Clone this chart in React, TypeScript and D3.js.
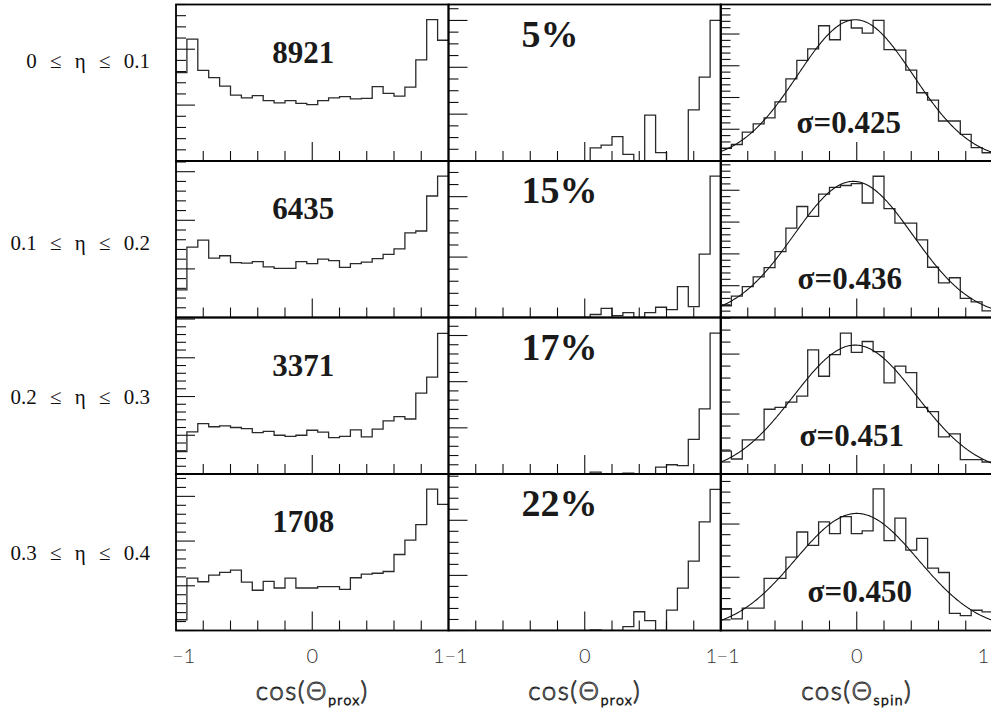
import React from "react";
import * as d3 from "d3";

// ---- data (25 bins from -1 to 1) ----
const binEdges = d3.range(26).map((i) => -1 + i * 0.08);

// column 1: cos(theta_prox), all events
const proxAllEta1 = [158, 218, 162, 149, 134, 118, 113, 117, 108, 104, 108, 103, 101, 108, 113, 115, 111, 112, 133, 121, 116, 132, 181, 253, 216];
const proxAllEta2 = [57, 145, 159, 122, 127, 113, 112, 115, 104, 101, 101, 115, 111, 120, 117, 103, 111, 114, 121, 130, 141, 174, 178, 250, 291];
const proxAllEta3 = [58, 109, 130, 122, 124, 120, 117, 107, 110, 100, 97, 100, 113, 108, 94, 97, 114, 96, 116, 137, 148, 142, 209, 250, 363];
const proxAllEta4 = [24, 117, 109, 124, 130, 135, 108, 90, 110, 95, 117, 95, 95, 98, 98, 92, 118, 126, 128, 132, 170, 202, 237, 316, 282];

// column 2: cos(theta_prox), subset
const proxSubEta1 = [0, 0, 0, 0, 0, 0, 0, 0, 0, 0, 0, 0, 0, 28, 34, 52, 14, 0, 98, 18, 0, 0, 109, 179, 300];
const proxSubEta2 = [0, 0, 0, 0, 0, 0, 0, 0, 0, 0, 0, 0, 0, 5, 15, 3, 8, 0, 8, 17, 13, 51, 18, 105, 234];
const proxSubEta3 = [0, 0, 0, 0, 0, 0, 0, 0, 0, 0, 0, 0, 0, 4, 0, 0, 2, 0, 0, 15, 20, 18, 75, 141, 305];
const proxSubEta4 = [0, 0, 0, 0, 0, 0, 0, 0, 0, 0, 0, 0, 0, 1, 0, 0, 7, 34, 18, 0, 37, 77, 126, 197, 256];

// column 3: cos(theta_spin)
const spinEta1 = [40, 52, 91, 117, 136, 186, 259, 317, 353, 426, 382, 443, 419, 403, 443, 351, 349, 286, 215, 192, 126, 126, 84, 42, 26];
const spinEta2 = [37, 67, 97, 128, 157, 207, 281, 349, 318, 388, 409, 415, 421, 360, 444, 342, 297, 297, 244, 158, 109, 125, 60, 49, 21];
const spinEta3 = [38, 25, 57, 57, 108, 111, 120, 130, 207, 163, 199, 235, 203, 221, 204, 152, 180, 169, 111, 104, 62, 67, 24, 24, 20];
const spinEta4 = [41, 22, 42, 42, 98, 98, 138, 185, 160, 204, 182, 214, 182, 187, 266, 169, 211, 151, 173, 117, 109, 32, 28, 38, 35];

// gaussian fit parameters for column 3
const fitAmp = [445, 428, 215, 220];
const fitMean = [-0.01, -0.025, -0.012, 0];
const fitSigma = [0.425, 0.436, 0.451, 0.45];

// axis maxima and minor tick steps (major every 100)
const yMaxCol1 = [280, 322, 404, 350];
const yMaxCol2 = [334, 259, 339, 284];
const yMaxCol3 = [493, 492, 261, 294];
const minorCol1 = [20, 20, 20, 20];
const minorCol2 = [25, 20, 20, 20];
const minorCol3 = [20, 20, 20, 20];

// text
const rowLabels = ["0 ≤ η ≤ 0.1", "0.1 ≤ η ≤ 0.2", "0.2 ≤ η ≤ 0.3", "0.3 ≤ η ≤ 0.4"];
const countLabels = ["8921", "6435", "3371", "1708"];
const percentLabels = ["5%", "15%", "17%", "22%"];
const sigmaLabels = ["σ=0.425", "σ=0.436", "σ=0.451", "σ=0.450"];
const xTickLabels = ["−1", "0", "1"];
const xTitleSubs = ["prox", "prox", "spin"];

const col1 = [proxAllEta1, proxAllEta2, proxAllEta3, proxAllEta4];
const col2 = [proxSubEta1, proxSubEta2, proxSubEta3, proxSubEta4];
const col3 = [spinEta1, spinEta2, spinEta3, spinEta4];

// ---- layout ----
const W = 991;
const H = 723;
const colLeft = [176, 448.5, 720.5];
const colW = 272.5;
const rowTop = [4.5, 161, 317.5, 474];
const rowH = 156.5;
const sigmaDx = [-8, -7, -5, 3];
const rowLabelY = [68, 250, 404, 560];

function histPath(vals: number[], x: d3.ScaleLinear<number, number>, y: d3.ScaleLinear<number, number>) {
  const p = d3.path();
  p.moveTo(x(binEdges[0]), y(vals[0]));
  vals.forEach((v, i) => {
    p.lineTo(x(binEdges[i + 1]), y(v));
    if (i < vals.length - 1) p.lineTo(x(binEdges[i + 1]), y(vals[i + 1]));
  });
  return p.toString();
}

function Panel({ c, r }: { c: number; r: number }) {
  const left = colLeft[c];
  const top = rowTop[r];
  const x = d3.scaleLinear().domain([-1, 1]).range([left, left + colW]);
  const yMax = [yMaxCol1, yMaxCol2, yMaxCol3][c][r];
  const minor = [minorCol1, minorCol2, minorCol3][c][r];
  const y = d3.scaleLinear().domain([0, yMax]).range([top + rowH, top]);
  const vals = [col1, col2, col3][c][r];
  const yTicks = d3.range(0, yMax + 0.001, minor);
  const xTicks = d3.range(-0.8, 0.81, 0.2);
  const clipId = `clip-${c}-${r}`;
  let fit: string | null = null;
  if (c === 2) {
    const xs = d3.range(0, 301).map((i) => -1 + (2 * i) / 300);
    const line = d3
      .line<number>()
      .x((d) => x(d))
      .y((d) => y(fitAmp[r] * Math.exp(-((d - fitMean[r]) ** 2) / (2 * fitSigma[r] ** 2))));
    fit = line(xs);
  }
  return (
    <g>
      <clipPath id={clipId}>
        <rect x={left} y={top} width={colW} height={rowH} />
      </clipPath>
      <g clipPath={`url(#${clipId})`}>
        <path d={histPath(vals, x, y)} fill="none" stroke="#2a2a2a" strokeWidth={1.3} />
        {fit && <path d={fit} fill="none" stroke="#111" strokeWidth={1.1} />}
      </g>
      {yTicks.map((t) => {
        const major = Math.abs(t / 100 - Math.round(t / 100)) < 1e-6;
        return (
          <line key={"y" + t} x1={left} x2={left + (major ? 19 : 10)} y1={y(t)} y2={y(t)} stroke="#111" strokeWidth={1.1} />
        );
      })}
      {xTicks.map((t) => {
        const major = Math.abs(t) < 1e-6;
        return (
          <line key={"x" + t} x1={x(t)} x2={x(t)} y1={top + rowH} y2={top + rowH - (major ? 19 : 10)} stroke="#111" strokeWidth={1.1} />
        );
      })}
      <rect x={left} y={top} width={colW} height={rowH} fill="none" stroke="#000" strokeWidth={1.8} />
    </g>
  );
}

export default function App() {
  const rows = [0, 1, 2, 3];
  const cols = [0, 1, 2];
  const bottom = rowTop[3] + rowH;
  return (
    <svg width={W} height={H} style={{ position: "absolute", left: 0, top: 0, background: "#fff" }}>
      <rect width={W} height={H} fill="#fff" />
      {rows.map((r) => cols.map((c) => <Panel key={`${c}-${r}`} c={c} r={r} />))}
      {/* row labels */}
      {rowLabels.map((t, r) => (
        <text key={t} x={150} y={rowLabelY[r]} textAnchor="end" fontFamily="'Liberation Serif', serif" fontSize={21} style={{ wordSpacing: "8px" }} fill="#111">
          {t}
        </text>
      ))}
      {/* counts */}
      {countLabels.map((t, r) => (
        <text key={t} x={colLeft[0] + colW / 2 - 9} y={rowTop[r] + 58} textAnchor="middle" fontFamily="'Liberation Serif', serif" fontWeight="bold" fontSize={31} fill="#1a1a1a">
          {t}
        </text>
      ))}
      {/* percentages */}
      {percentLabels.map((t, r) => (
        <text key={t} x={colLeft[1] + 73} y={rowTop[r] + 42} fontFamily="'Liberation Serif', serif" fontWeight="bold" fontSize={38} fill="#1a1a1a">
          {t}
        </text>
      ))}
      {/* sigmas */}
      {sigmaLabels.map((t, r) => (
        <text key={t} x={colLeft[2] + colW / 2 + sigmaDx[r]} y={rowTop[r] + 128} textAnchor="middle" fontFamily="'Liberation Serif', serif" fontWeight="bold" fontSize={31} fill="#1a1a1a">
          {t}
        </text>
      ))}
      {/* x tick labels */}
      {cols.map((c) => {
        const x = d3.scaleLinear().domain([-1, 1]).range([colLeft[c], colLeft[c] + colW]);
        return (
          <g key={"xl" + c} fontFamily="Lato, 'DejaVu Sans', sans-serif" fontWeight={300} fontSize={20} fill="#333">
            <text x={x(-1) - 4} y={bottom + 32} textAnchor="start">{xTickLabels[0]}</text>
            <text x={x(0)} y={bottom + 32} textAnchor="middle">{xTickLabels[1]}</text>
            <text x={x(1) - 4} y={bottom + 32} textAnchor="end">{xTickLabels[2]}</text>
            <text x={x(0)} y={bottom + 69} textAnchor="middle" fontSize={26} fill="#fff" stroke="#222" strokeWidth={0.9} style={{ letterSpacing: "1.5px" }}>
              cos(Θ<tspan fontSize={14} dy={5}>{xTitleSubs[c]}</tspan><tspan dy={-5}>)</tspan>
            </text>
          </g>
        );
      })}
    </svg>
  );
}
